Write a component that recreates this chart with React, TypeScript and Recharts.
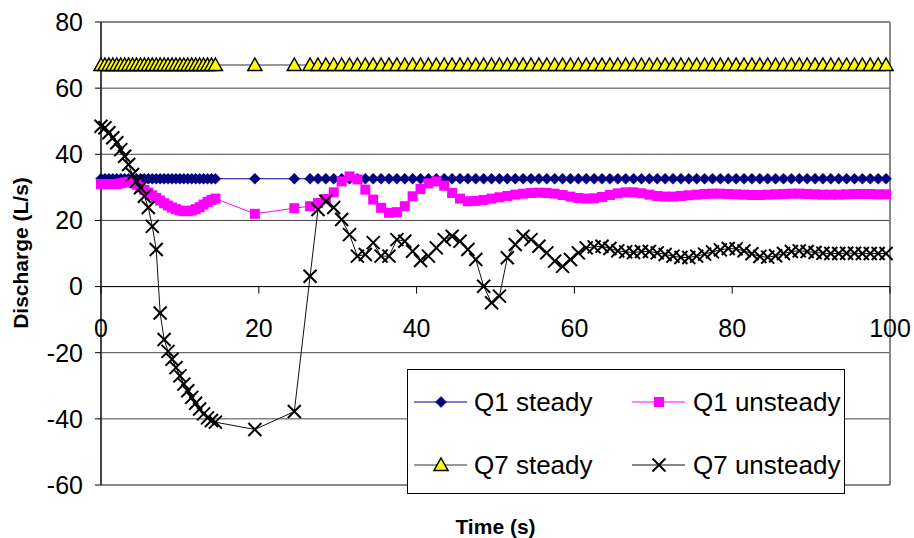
import React from 'react';
import {
  LineChart,
  Line,
  XAxis,
  YAxis,
  CartesianGrid,
  Legend,
  ReferenceLine,
  ReferenceDot,
  Label,
} from 'recharts';

// ---------- DATA ----------
const times = [
  0, 0.5, 1, 1.5, 2, 2.5, 3, 3.5, 4, 4.5,
  5, 5.5, 6, 6.5, 7, 7.5, 8, 8.5, 9, 9.5,
  10, 10.5, 11, 11.5, 12, 12.5, 13, 13.5, 14, 14.5,
  19.5, 24.5,
  26.5, 27.5, 28.5, 29.5, 30.5, 31.5, 32.5, 33.5, 34.5, 35.5,
  36.5, 37.5, 38.5, 39.5, 40.5, 41.5, 42.5, 43.5, 44.5, 45.5,
  46.5, 47.5, 48.5, 49.5, 50.5, 51.5, 52.5, 53.5, 54.5, 55.5,
  56.5, 57.5, 58.5, 59.5, 60.5, 61.5, 62.5, 63.5, 64.5, 65.5,
  66.5, 67.5, 68.5, 69.5, 70.5, 71.5, 72.5, 73.5, 74.5, 75.5,
  76.5, 77.5, 78.5, 79.5, 80.5, 81.5, 82.5, 83.5, 84.5, 85.5,
  86.5, 87.5, 88.5, 89.5, 90.5, 91.5, 92.5, 93.5, 94.5, 95.5,
  96.5, 97.5, 98.5, 99.5,
];

const q1Steady = [
  32.6, 32.6, 32.6, 32.6, 32.6, 32.6, 32.6, 32.6, 32.6, 32.6,
  32.6, 32.6, 32.6, 32.6, 32.6, 32.6, 32.6, 32.6, 32.6, 32.6,
  32.6, 32.6, 32.6, 32.6, 32.6, 32.6, 32.6, 32.6, 32.6, 32.6,
  32.6, 32.6,
  32.6, 32.6, 32.6, 32.6, 32.6, 32.6, 32.6, 32.6, 32.6, 32.6,
  32.6, 32.6, 32.6, 32.6, 32.6, 32.6, 32.6, 32.6, 32.6, 32.6,
  32.6, 32.6, 32.6, 32.6, 32.6, 32.6, 32.6, 32.6, 32.6, 32.6,
  32.6, 32.6, 32.6, 32.6, 32.6, 32.6, 32.6, 32.6, 32.6, 32.6,
  32.6, 32.6, 32.6, 32.6, 32.6, 32.6, 32.6, 32.6, 32.6, 32.6,
  32.6, 32.6, 32.6, 32.6, 32.6, 32.6, 32.6, 32.6, 32.6, 32.6,
  32.6, 32.6, 32.6, 32.6, 32.6, 32.6, 32.6, 32.6, 32.6, 32.6,
  32.6, 32.6, 32.6, 32.6,
];

const q1Unsteady = [
  31, 31, 31, 31, 31, 31.2, 31.5, 31.7, 31.5, 30.8,
  30, 29.2, 28.4, 27.6, 26.8, 26, 25.2, 24.5, 23.9, 23.4,
  23, 22.8, 22.8, 23, 23.4, 24, 24.8, 25.6, 26.2, 26.6,
  22, 23.7,
  24.3, 25.3, 26.5, 28.5, 31.8, 33.3, 32.4, 29.3, 26.3, 23.8,
  22.3, 22.5, 24.3, 27.3, 29.5, 31.2, 31.8, 30.5, 28.3, 26.6,
  25.8, 25.9, 26.2, 26.6, 27, 27.4, 27.8, 28.1, 28.3, 28.4,
  28.3, 28.1, 27.7, 27.2, 26.8, 26.6, 26.7, 27.1, 27.7, 28.2,
  28.5, 28.5, 28.2, 27.8, 27.4, 27.2, 27.2, 27.4, 27.6, 27.8,
  28, 28.1, 28.1, 28, 27.9, 27.8, 27.7, 27.7, 27.8, 27.9,
  28, 28.1, 28.1, 28, 27.9, 27.8, 27.8, 27.8, 27.9, 28,
  28, 28, 27.9, 27.9,
];

const q7Steady = [
  67, 67, 67, 67, 67, 67, 67, 67, 67, 67,
  67, 67, 67, 67, 67, 67, 67, 67, 67, 67,
  67, 67, 67, 67, 67, 67, 67, 67, 67, 67,
  67, 67,
  67, 67, 67, 67, 67, 67, 67, 67, 67, 67,
  67, 67, 67, 67, 67, 67, 67, 67, 67, 67,
  67, 67, 67, 67, 67, 67, 67, 67, 67, 67,
  67, 67, 67, 67, 67, 67, 67, 67, 67, 67,
  67, 67, 67, 67, 67, 67, 67, 67, 67, 67,
  67, 67, 67, 67, 67, 67, 67, 67, 67, 67,
  67, 67, 67, 67, 67, 67, 67, 67, 67, 67,
  67, 67, 67, 67,
];

const q7Unsteady = [
  48.5, 48, 46.5, 45, 43.5, 41.4, 39.4, 36.9, 33.9, 31.8,
  29.9, 27.3, 23.9, 18.2, 11.2, -8, -16, -19.6, -22, -24.5,
  -27, -29.5, -31.5, -33.5, -35.3, -37, -38.5, -39.7, -40.5, -41,
  -43.2, -37.8,
  3.1, 23.3, 25.8, 23.9, 20.3, 15.7, 9.2, 9.7, 13.3, 9.2,
  9.2, 14.2, 13.7, 10.7, 7.9, 9.2, 11.7, 14.2, 15.2, 13.7,
  11.2, 8.2, 0.1, -4.9, -2.9, 8.7, 12.7, 15.2, 14.2, 12.2,
  10.2, 7.7, 6.1, 8.2, 10.2, 11.7, 12, 12.2, 11.5, 10.8,
  10.5, 10.3, 10.6, 10.6, 10.2, 9.7, 9.2, 8.8, 8.8, 9.2,
  9.8, 10.5, 11.1, 11.5, 11.4, 10.8, 9.9, 9.1, 8.9, 9.3,
  10, 10.6, 10.8, 10.6, 10.3, 10.1, 10, 10, 10.1, 10.1,
  10, 10, 10, 10,
];

const yTicks = [-60, -40, -20, 0, 20, 40, 60, 80];
const xTickValues = [0, 20, 40, 60, 80, 100];
const seriesNames = ['Q1 steady', 'Q1 unsteady', 'Q7 steady', 'Q7 unsteady'];
const xTitle = 'Time (s)';
const yTitle = 'Discharge (L/s)';

// ---------- STYLE ----------
const FONT = '"Liberation Sans", Arial, Helvetica, sans-serif';

type Kind = 'diamond' | 'square' | 'triangle' | 'cross';

const series: { key: string; name: string; kind: Kind; line: string }[] = [
  { key: 'q1s', name: seriesNames[0], kind: 'diamond', line: '#000080' },
  { key: 'q1u', name: seriesNames[1], kind: 'square', line: '#FF00FF' },
  { key: 'q7s', name: seriesNames[2], kind: 'triangle', line: '#333333' },
  { key: 'q7u', name: seriesNames[3], kind: 'cross', line: '#111111' },
];

const data = times.map((t, i) => ({
  t,
  q1s: q1Steady[i],
  q1u: q1Unsteady[i],
  q7s: q7Steady[i],
  q7u: q7Unsteady[i],
}));

function marker(kind: Kind, cx: number, cy: number, key?: string) {
  switch (kind) {
    case 'diamond':
      return (
        <polygon
          key={key}
          points={`${cx},${cy - 5.5} ${cx + 5.5},${cy} ${cx},${cy + 5.5} ${cx - 5.5},${cy}`}
          fill="#000080"
          stroke="#000080"
          strokeWidth={0.5}
        />
      );
    case 'square':
      return <rect key={key} x={cx - 5} y={cy - 5} width={10} height={10} fill="#FF00FF" />;
    case 'triangle':
      return (
        <polygon
          key={key}
          points={`${cx},${cy - 7} ${cx + 7},${cy + 5.5} ${cx - 7},${cy + 5.5}`}
          fill="#FFFF00"
          stroke="#000"
          strokeWidth={1.5}
        />
      );
    case 'cross':
    default:
      return (
        <g key={key} stroke="#000" strokeWidth={2}>
          <line x1={cx - 6.5} y1={cy - 6.5} x2={cx + 6.5} y2={cy + 6.5} />
          <line x1={cx - 6.5} y1={cy + 6.5} x2={cx + 6.5} y2={cy - 6.5} />
        </g>
      );
  }
}

const makeDot = (kind: Kind) => (props: any) => {
  const { cx, cy, index } = props;
  const k = `${kind}-${index}`;
  if (cx == null || cy == null) return <g key={k} />;
  return marker(kind, cx, cy, k);
};

function LegendBox() {
  const cols = [
    { lx: 7, mx: 34, tx: 67 },
    { lx: 225, mx: 252, tx: 286 },
  ];
  const rows = [33, 96];
  return (
    <svg width={438} height={125} style={{ display: 'block' }}>
      <rect x={0.5} y={0.5} width={437} height={124} fill="#fff" stroke="#000" strokeWidth={1} />
      {series.map((s, i) => {
        const c = cols[i % 2];
        const r = rows[Math.floor(i / 2)];
        return (
          <g key={s.key}>
            <line x1={c.lx} x2={c.lx + 53} y1={r} y2={r} stroke={s.line} strokeWidth={1} />
            {marker(s.kind, c.mx, r)}
            <text x={c.tx} y={r + 9} fontSize={26} fontFamily={FONT} fill="#000">
              {s.name}
            </text>
          </g>
        );
      })}
    </svg>
  );
}

const xTickShape = (label: string) => (p: any) => {
  const { cx, cy } = p;
  return (
    <g>
      <line x1={cx} x2={cx} y1={cy} y2={cy + 7} stroke="#000" strokeWidth={1} />
      <text x={cx} y={cy + 50} textAnchor="middle" fontSize={25} fontFamily={FONT} fill="#000">
        {label}
      </text>
    </g>
  );
};

export default function App() {
  return (
    <div style={{ position: 'absolute', left: 0, top: 0, width: 914, height: 538, background: '#fff' }}>
      <LineChart
        width={914}
        height={538}
        data={data}
        margin={{ top: 22, right: 24, bottom: 0, left: 41 }}
      >
        <CartesianGrid vertical={false} stroke="#444" strokeWidth={1} />
        <XAxis
          dataKey="t"
          type="number"
          domain={[0, 100]}
          ticks={xTickValues}
          tick={false}
          tickLine={false}
          axisLine={false}
          height={53}
        >
          <Label
            value={xTitle}
            position="insideBottom"
            offset={4}
            style={{ fontSize: 21, fontWeight: 'bold', fontFamily: FONT, fill: '#000' }}
          />
        </XAxis>
        <YAxis
          type="number"
          domain={[-60, 80]}
          ticks={yTicks}
          interval={0}
          width={60}
          tickSize={6}
          tickMargin={12}
          tick={{ fill: '#000', fontSize: 25, fontFamily: FONT }}
          tickLine={{ stroke: '#000' }}
          axisLine={{ stroke: '#444', strokeWidth: 2 }}
        >
          <Label
            content={() => (
              <text
                x={28}
                y={253}
                transform="rotate(-90, 28, 253)"
                textAnchor="middle"
                fontSize={21}
                fontWeight="bold"
                fontFamily={FONT}
                fill="#000"
              >
                {yTitle}
              </text>
            )}
          />
        </YAxis>
        <ReferenceLine y={80} stroke="#888" strokeWidth={2} />
        <ReferenceLine y={-60} stroke="#888" strokeWidth={2} />
        <ReferenceLine x={100} stroke="#888" strokeWidth={2} />
        <ReferenceLine y={0} stroke="#000" strokeWidth={1} />
        {xTickValues.map((v) => (
          <ReferenceDot key={`xt-${v}`} x={v} y={0} r={0} shape={xTickShape(String(v))} />
        ))}
        {series.map((s) => (
          <Line
            key={s.key}
            dataKey={s.key}
            name={s.name}
            stroke={s.line}
            strokeWidth={1}
            dot={makeDot(s.kind)}
            activeDot={false}
            isAnimationActive={false}
            type="linear"
          />
        ))}
        <Legend
          layout="horizontal"
          verticalAlign="middle"
          align="center"
          content={() => <LegendBox />}
          wrapperStyle={{ left: 407, top: 369, width: 438, height: 125 }}
        />
      </LineChart>
    </div>
  );
}
